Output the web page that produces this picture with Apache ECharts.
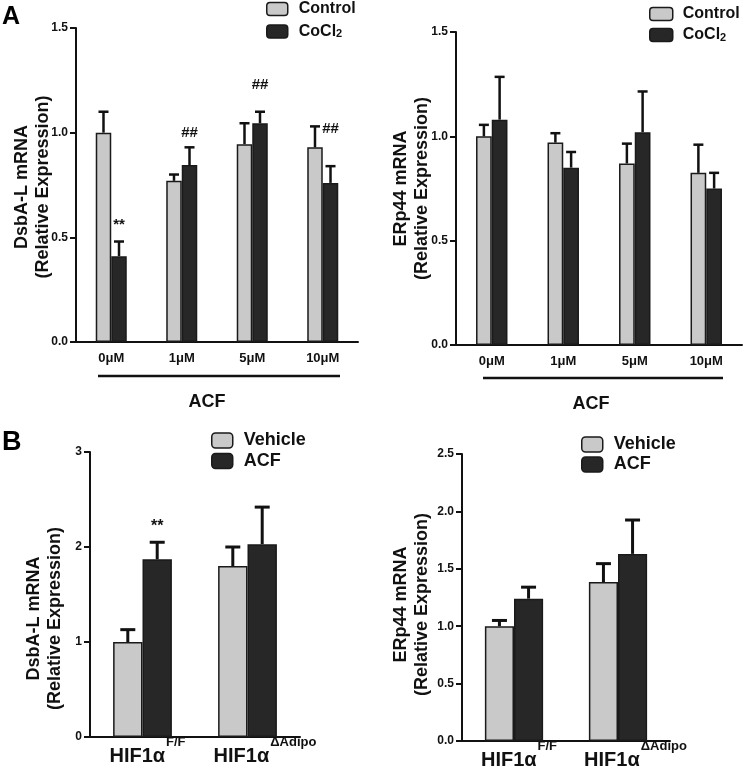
<!DOCTYPE html>
<html>
<head>
<meta charset="utf-8">
<script src="https://cdn.jsdelivr.net/npm/echarts@6/dist/echarts.min.js"></script>
<style>
html,body{margin:0;padding:0;background:#fff;}
#c{width:745px;height:770px;}
</style>
</head>
<body>
<div id="c"></div>
<script>
// ---------- DATA ----------
const aCats = ['0μM', '1μM', '5μM', '10μM'];
const aTicks = [0, 0.5, 1.0, 1.5];

// Panel A left: DsbA-L
const aLeftControl = [1.00, 0.77, 0.945, 0.93];
const aLeftControlErr = [0.10, 0.03, 0.10, 0.10];
const aLeftCoCl2 = [0.41, 0.845, 1.045, 0.76];
const aLeftCoCl2Err = [0.07, 0.085, 0.055, 0.08];
const aLeftMarks = ['**', '##', '##', '##'];
const aLeftMarkY = [0.56, 1.00, 1.23, 1.02];

// Panel A right: ERp44
const aRightControl = [1.00, 0.97, 0.87, 0.825];
const aRightControlErr = [0.055, 0.045, 0.095, 0.135];
const aRightCoCl2 = [1.08, 0.85, 1.02, 0.75];
const aRightCoCl2Err = [0.205, 0.075, 0.195, 0.075];

// Panel B
const bCatMain = ['HIF1α', 'HIF1α'];
const bCatSup = ['F/F', 'ΔAdipo'];
const bLeftTicks = [0, 1, 2, 3];
const bRightTicks = [0, 0.5, 1.0, 1.5, 2.0, 2.5];

const bLeftVehicle = [1.00, 1.80];
const bLeftVehicleErr = [0.13, 0.20];
const bLeftACF = [1.87, 2.03];
const bLeftACFErr = [0.18, 0.39];
const bLeftMarks = ['**', ''];
const bLeftMarkY = [2.22, 0];

const bRightVehicle = [1.00, 1.385];
const bRightVehicleErr = [0.05, 0.16];
const bRightACF = [1.24, 1.63];
const bRightACFErr = [0.10, 0.295];

// ---------- STYLE ----------
const FONT = '"Liberation Sans", Arial, Helvetica, sans-serif';
const LIGHT = '#c9c9c9';
const DARK = '#272727';
const INK = '#111';

const bCats = bCatMain.map((m, i) => m + ' ' + bCatSup[i]);

function tickStep(t) { return t[1] - t[0]; }

function errRender(side, pct, cap, lw) {
  return function (params, api) {
    const x = api.value(0), v = api.value(1), e = api.value(2);
    const p0 = api.coord([x, v]);
    const p1 = api.coord([x, v + e]);
    const cw = api.size([1, 0])[0];
    const bw = cw * pct;
    const cx = p0[0] + side * bw / 2;
    return {
      type: 'group',
      children: [
        { type: 'line', shape: { x1: cx, y1: p0[1], x2: cx, y2: p1[1] }, style: { stroke: INK, lineWidth: lw } },
        { type: 'line', shape: { x1: cx - cap / 2, y1: p1[1], x2: cx + cap / 2, y2: p1[1] }, style: { stroke: INK, lineWidth: lw } }
      ]
    };
  };
}

function markRender(side, pct, fs) {
  return function (params, api) {
    const x = api.value(0), y = api.value(1);
    const txt = api.value(2);
    const p = api.coord([x, y]);
    const cw = api.size([1, 0])[0];
    const cx = p[0] + side * cw * pct / 2;
    return {
      type: 'text',
      style: { x: cx, y: p[1], text: txt, textAlign: 'center', textVerticalAlign: 'middle', fill: INK, font: 'bold ' + fs + 'px ' + FONT }
    };
  };
}

function errSeries(idx, vals, errs, side, pct, cap, lw) {
  return {
    type: 'custom', xAxisIndex: idx, yAxisIndex: idx, z: 5,
    renderItem: errRender(side, pct, cap, lw),
    data: vals.map((v, i) => [i, v, errs[i]]),
    encode: { x: 0, y: 1 }, silent: true
  };
}

function markSeries(idx, ys, marks, side, pct, fs) {
  return {
    type: 'custom', xAxisIndex: idx, yAxisIndex: idx, z: 6,
    renderItem: markRender(side, pct, fs),
    data: ys.map((y, i) => [i, y, marks[i]]).filter(d => d[2] !== ''),
    encode: { x: 0, y: 1 }, silent: true
  };
}

function barSeries(idx, name, vals, color, pct) {
  return {
    type: 'bar', name: name, xAxisIndex: idx, yAxisIndex: idx,
    data: vals, barWidth: (pct * 100) + '%', barGap: '0%',
    itemStyle: { color: color, borderColor: '#1a1a1a', borderWidth: 1.5 },
    emphasis: { disabled: true }, animation: false
  };
}

function xAxisA(idx) {
  return {
    type: 'category', gridIndex: idx, data: aCats,
    axisLine: { lineStyle: { color: INK, width: 2 } },
    axisTick: { alignWithLabel: true, length: 6, lineStyle: { color: INK, width: 2 } },
    axisLabel: { color: INK, fontFamily: FONT, fontWeight: 'bold', fontSize: 13, margin: 10, interval: 0 },
    splitLine: { show: false }
  };
}

function xAxisB(idx, spacers) {
  const rich = {
    m: { fontFamily: FONT, fontWeight: 'bold', fontSize: 20, color: INK, lineHeight: 30, verticalAlign: 'bottom' },
    s: { fontFamily: FONT, fontWeight: 'bold', fontSize: 13, color: INK, lineHeight: 13, verticalAlign: 'top', padding: [0, 0, 0, 1] }
  };
  spacers.forEach((w, i) => { rich['sp' + i] = { width: w, fontSize: 10, lineHeight: 10 }; });
  return {
    type: 'category', gridIndex: idx, data: bCats,
    axisLine: { lineStyle: { color: INK, width: 2 } },
    axisTick: { alignWithLabel: true, length: 6, lineStyle: { color: INK, width: 2 } },
    axisLabel: {
      margin: -1, interval: 0, hideOverlap: false,
      formatter: function (val, i) { return '{sp' + i + '| }{m|' + bCatMain[i] + '}{s|' + bCatSup[i] + '}'; },
      rich: rich
    },
    splitLine: { show: false }
  };
}

function yAxis(idx, ticks, name, nameGap, dec, shift) {
  return {
    type: 'value', gridIndex: idx,
    min: ticks[0], max: ticks[ticks.length - 1], interval: tickStep(ticks),
    axisLine: { show: true, lineStyle: { color: INK, width: 2 } },
    axisTick: { show: true, length: 6, lineStyle: { color: INK, width: 2 } },
    axisLabel: { color: INK, fontFamily: FONT, fontWeight: 'bold', fontSize: 12, margin: 8,
      formatter: v => v.toFixed(dec) },
    splitLine: { show: false },
    name: name, nameLocation: 'middle', nameRotate: 90, nameGap: nameGap, nameMoveOverlap: false,
    nameTextStyle: { color: INK, fontFamily: FONT, fontWeight: 'bold', fontSize: 18, lineHeight: 21,
      padding: [0, shift * 2, 0, 0] }
  };
}

function legend(names, left, top, iw, ih, gap, fs, pad) {
  return {
    orient: 'vertical', left: left, top: top, padding: 0,
    itemWidth: iw, itemHeight: ih, itemGap: gap,
    data: names, selectedMode: false,
    itemStyle: { borderColor: '#1a1a1a', borderWidth: 1.5 },
    formatter: n => n === 'CoCl2' ? 'CoCl{sub|2}' : n,
    textStyle: {
      color: INK, fontFamily: FONT, fontWeight: 'bold', fontSize: fs, lineHeight: fs, padding: [0, 0, 0, pad],
      rich: { sub: { fontFamily: FONT, fontWeight: 'bold', fontSize: 11, lineHeight: 11, verticalAlign: 'bottom', padding: [5, 0, 0, 0], color: INK } }
    }
  };
}

const PA = 0.22, PB = 0.28;

const option = {
  animation: false,
  backgroundColor: '#fff',
  grid: [
    { left: 76, top: 28, width: 282, height: 314, outerBoundsMode: 'none' },
    { left: 456, top: 32, width: 286, height: 313, outerBoundsMode: 'none' },
    { left: 90, top: 452, width: 210, height: 285, outerBoundsMode: 'none' },
    { left: 462, top: 454, width: 208, height: 287, outerBoundsMode: 'none' }
  ],
  xAxis: [xAxisA(0), xAxisA(1), xAxisB(2, [10, 35]), xAxisB(3, [10, 35])],
  yAxis: [
    yAxis(0, aTicks, 'DsbA-L mRNA\n(Relative Expression)', 22, 1, 2),
    yAxis(1, aTicks, 'ERp44 mRNA\n(Relative Expression)', 23, 1, 0),
    yAxis(2, bLeftTicks, 'DsbA-L mRNA\n(Relative Expression)', 24, 0, 24),
    yAxis(3, bRightTicks, 'ERp44 mRNA\n(Relative Expression)', 29, 1, 7)
  ],
  legend: [
    legend(['Control', 'CoCl2'], 266, 1, 21, 13, 6.5, 16, 6),
    legend(['Control', 'CoCl2'], 649, 6, 23, 13, 5, 16, 5),
    legend(['Vehicle', 'ACF'], 211, 431.5, 21, 15, 2.5, 18, 6),
    legend(['Vehicle', 'ACF'], 581, 435.5, 21, 15, 2, 18, 6)
  ],
  series: [
    barSeries(0, 'Control', aLeftControl, LIGHT, PA),
    barSeries(0, 'CoCl2', aLeftCoCl2, DARK, PA),
    errSeries(0, aLeftControl, aLeftControlErr, -1, PA, 10, 2.5),
    errSeries(0, aLeftCoCl2, aLeftCoCl2Err, 1, PA, 10, 2.5),
    markSeries(0, aLeftMarkY, aLeftMarks, 1, PA, 15),

    barSeries(1, 'Control', aRightControl, LIGHT, PA),
    barSeries(1, 'CoCl2', aRightCoCl2, DARK, PA),
    errSeries(1, aRightControl, aRightControlErr, -1, PA, 10, 2.5),
    errSeries(1, aRightCoCl2, aRightCoCl2Err, 1, PA, 10, 2.5),

    barSeries(2, 'Vehicle', bLeftVehicle, LIGHT, PB),
    barSeries(2, 'ACF', bLeftACF, DARK, PB),
    errSeries(2, bLeftVehicle, bLeftVehicleErr, -1, PB, 15, 3),
    errSeries(2, bLeftACF, bLeftACFErr, 1, PB, 15, 3),
    markSeries(2, bLeftMarkY, bLeftMarks, 1, PB, 16),

    barSeries(3, 'Vehicle', bRightVehicle, LIGHT, PB),
    barSeries(3, 'ACF', bRightACF, DARK, PB),
    errSeries(3, bRightVehicle, bRightVehicleErr, -1, PB, 15, 3),
    errSeries(3, bRightACF, bRightACFErr, 1, PB, 15, 3)
  ],
  graphic: [
    { type: 'text', left: 2, top: 5, style: { text: 'A', font: 'bold 25px ' + FONT, fill: '#000' } },
    { type: 'text', left: 2, top: 429, style: { text: 'B', font: 'bold 27px ' + FONT, fill: '#000' } },
    { type: 'line', shape: { x1: 98, y1: 376, x2: 340, y2: 376 }, style: { stroke: INK, lineWidth: 2.5 } },
    { type: 'line', shape: { x1: 483, y1: 378, x2: 723, y2: 378 }, style: { stroke: INK, lineWidth: 2.5 } },
    { type: 'text', x: 207, y: 402, style: { text: 'ACF', font: 'bold 18px ' + FONT, fill: INK, textAlign: 'center', textVerticalAlign: 'middle' } },
    { type: 'text', x: 591, y: 404, style: { text: 'ACF', font: 'bold 18px ' + FONT, fill: INK, textAlign: 'center', textVerticalAlign: 'middle' } }
  ]
};

const chart = echarts.init(document.getElementById('c'), null, { renderer: 'canvas' });
chart.setOption(option);
</script>
</body>
</html>
